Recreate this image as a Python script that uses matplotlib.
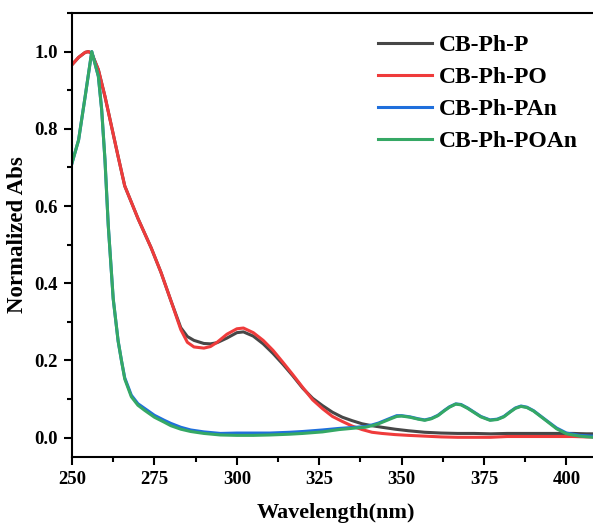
import numpy as np
import matplotlib.pyplot as plt
from matplotlib.ticker import MultipleLocator

plt.rcParams['font.family'] = ['Liberation Serif', 'DejaVu Serif']
plt.rcParams['font.weight'] = 'bold'

# --- Datos ---
labels = ['CB-Ph-P', 'CB-Ph-PO', 'CB-Ph-PAn', 'CB-Ph-POAn']
colors = ['#474747', '#ef3b3b', '#1f6fdc', '#35a865']

wl_p = [250, 252, 254, 255, 256, 258, 260, 262, 264, 266, 268, 270, 272, 274, 277,
        280, 283, 285, 287, 290, 292, 294, 297, 300, 302, 305, 308, 311, 314, 317,
        320, 323, 326, 329, 332, 335, 338, 341, 344, 348, 352, 357, 362, 367, 372,
        377, 382, 387, 392, 397, 402, 406, 410]
abs_p = [0.966, 0.985, 0.998, 1.0, 0.995, 0.953, 0.884, 0.806, 0.728, 0.652, 0.61, 0.568,
         0.53, 0.492, 0.428, 0.355, 0.285, 0.262, 0.252, 0.244, 0.243, 0.246, 0.258, 0.272,
         0.274, 0.263, 0.243, 0.218, 0.19, 0.16, 0.128, 0.102, 0.083, 0.066, 0.053, 0.044,
         0.036, 0.031, 0.027, 0.022, 0.018, 0.014, 0.012, 0.011, 0.011, 0.010, 0.011, 0.011,
         0.011, 0.011, 0.011, 0.010, 0.010]

wl_po = [250, 252, 254, 255, 256, 258, 260, 262, 264, 266, 268, 270, 272, 274, 277,
         280, 283, 285, 287, 290, 292, 294, 297, 300, 302, 305, 308, 311, 314, 317,
         320, 323, 326, 329, 332, 335, 338, 341, 344, 348, 352, 357, 362, 367, 372,
         377, 382, 387, 392, 397, 402, 406, 410]
abs_po = [0.966, 0.985, 0.998, 1.0, 0.995, 0.953, 0.884, 0.806, 0.728, 0.652, 0.61, 0.568,
          0.53, 0.492, 0.428, 0.355, 0.28, 0.247, 0.235, 0.232, 0.236, 0.247, 0.268, 0.282,
          0.284, 0.272, 0.252, 0.226, 0.195, 0.163, 0.13, 0.098, 0.075, 0.055, 0.042, 0.03,
          0.021, 0.014, 0.011, 0.008, 0.006, 0.004, 0.002, 0.001, 0.001, 0.001, 0.003, 0.003,
          0.003, 0.003, 0.003, 0.002, 0.002]

wl_an = [250, 252, 254, 256, 258, 259, 260, 261, 262.5, 264, 265, 266, 268, 270, 272,
         275, 278, 280, 283, 286, 290, 295, 300, 305, 310, 316, 320, 326, 331, 336,
         339, 341, 343, 345, 347, 348.5, 350, 352.5, 355, 357, 359, 361, 363, 364.5,
         366.4, 368, 370, 372, 374, 376.8, 379, 381, 383, 384.5, 386.2, 388, 390, 392,
         394, 397, 400, 404, 408, 410]
abs_pan = [0.711, 0.771, 0.884, 1.0, 0.936, 0.85, 0.72, 0.55, 0.36, 0.25, 0.2, 0.155, 0.11,
           0.088, 0.076, 0.058, 0.045, 0.037, 0.027, 0.02, 0.015, 0.011, 0.012, 0.012,
           0.012, 0.014, 0.016, 0.02, 0.024, 0.027, 0.029, 0.033, 0.038, 0.045, 0.052, 0.057,
           0.057, 0.054, 0.049, 0.046, 0.05, 0.058, 0.071, 0.08, 0.0875, 0.086, 0.077, 0.066,
           0.055, 0.046, 0.048, 0.055, 0.068, 0.077, 0.082, 0.079, 0.07, 0.057, 0.044, 0.025,
           0.012, 0.006, 0.004, 0.004]
abs_poan = [0.711, 0.771, 0.884, 1.0, 0.936, 0.85, 0.72, 0.55, 0.36, 0.25, 0.2, 0.152, 0.106,
            0.084, 0.071, 0.053, 0.04, 0.031, 0.022, 0.016, 0.011, 0.007, 0.006, 0.006,
            0.007, 0.009, 0.011, 0.015, 0.021, 0.025, 0.027, 0.031, 0.036, 0.043, 0.05, 0.055,
            0.056, 0.053, 0.048, 0.045, 0.049, 0.057, 0.07, 0.079, 0.087, 0.085, 0.076, 0.065,
            0.054, 0.045, 0.047, 0.054, 0.067, 0.076, 0.081, 0.078, 0.069, 0.056, 0.043, 0.023,
            0.01, 0.004, 0.001, 0.0]

# --- Figura ---
fig = plt.figure(figsize=(5.93, 5.28), dpi=100)
ax = fig.add_axes([0.1214, 0.1345, 0.8895, 0.8409])

series = [(wl_p, abs_p), (wl_po, abs_po), (wl_an, abs_pan), (wl_an, abs_poan)]
for (x, y), lab, c in zip(series, labels, colors):
    ax.plot(x, y, color=c, lw=2.2, label=lab, solid_joinstyle='round')

ax.set_xlim(250, 410)
ax.set_ylim(-0.05, 1.1)
ax.xaxis.set_major_locator(MultipleLocator(25))
ax.xaxis.set_minor_locator(MultipleLocator(12.5))
ax.yaxis.set_major_locator(MultipleLocator(0.2))
ax.yaxis.set_minor_locator(MultipleLocator(0.1))
ax.tick_params(which='major', length=6, width=1.5, labelsize=13.5, direction='out', pad=4)
ax.tick_params(which='minor', length=3.5, width=1.5, direction='out')
for s in ax.spines.values():
    s.set_linewidth(1.5)
ax.spines['right'].set_visible(False)

ax.set_xlabel('Wavelength(nm)', fontsize=16, fontweight='bold', labelpad=11)
ax.set_ylabel('Normalized Abs', fontsize=16.5, fontweight='bold', labelpad=5)

leg = ax.legend(loc='upper left', bbox_to_anchor=(0.539, 1.0), frameon=False,
                fontsize=17, handlelength=2.3, handletextpad=0.3, labelspacing=0.45)
for t in leg.get_texts():
    t.set_fontweight('bold')

plt.savefig('out.png', dpi=100)
